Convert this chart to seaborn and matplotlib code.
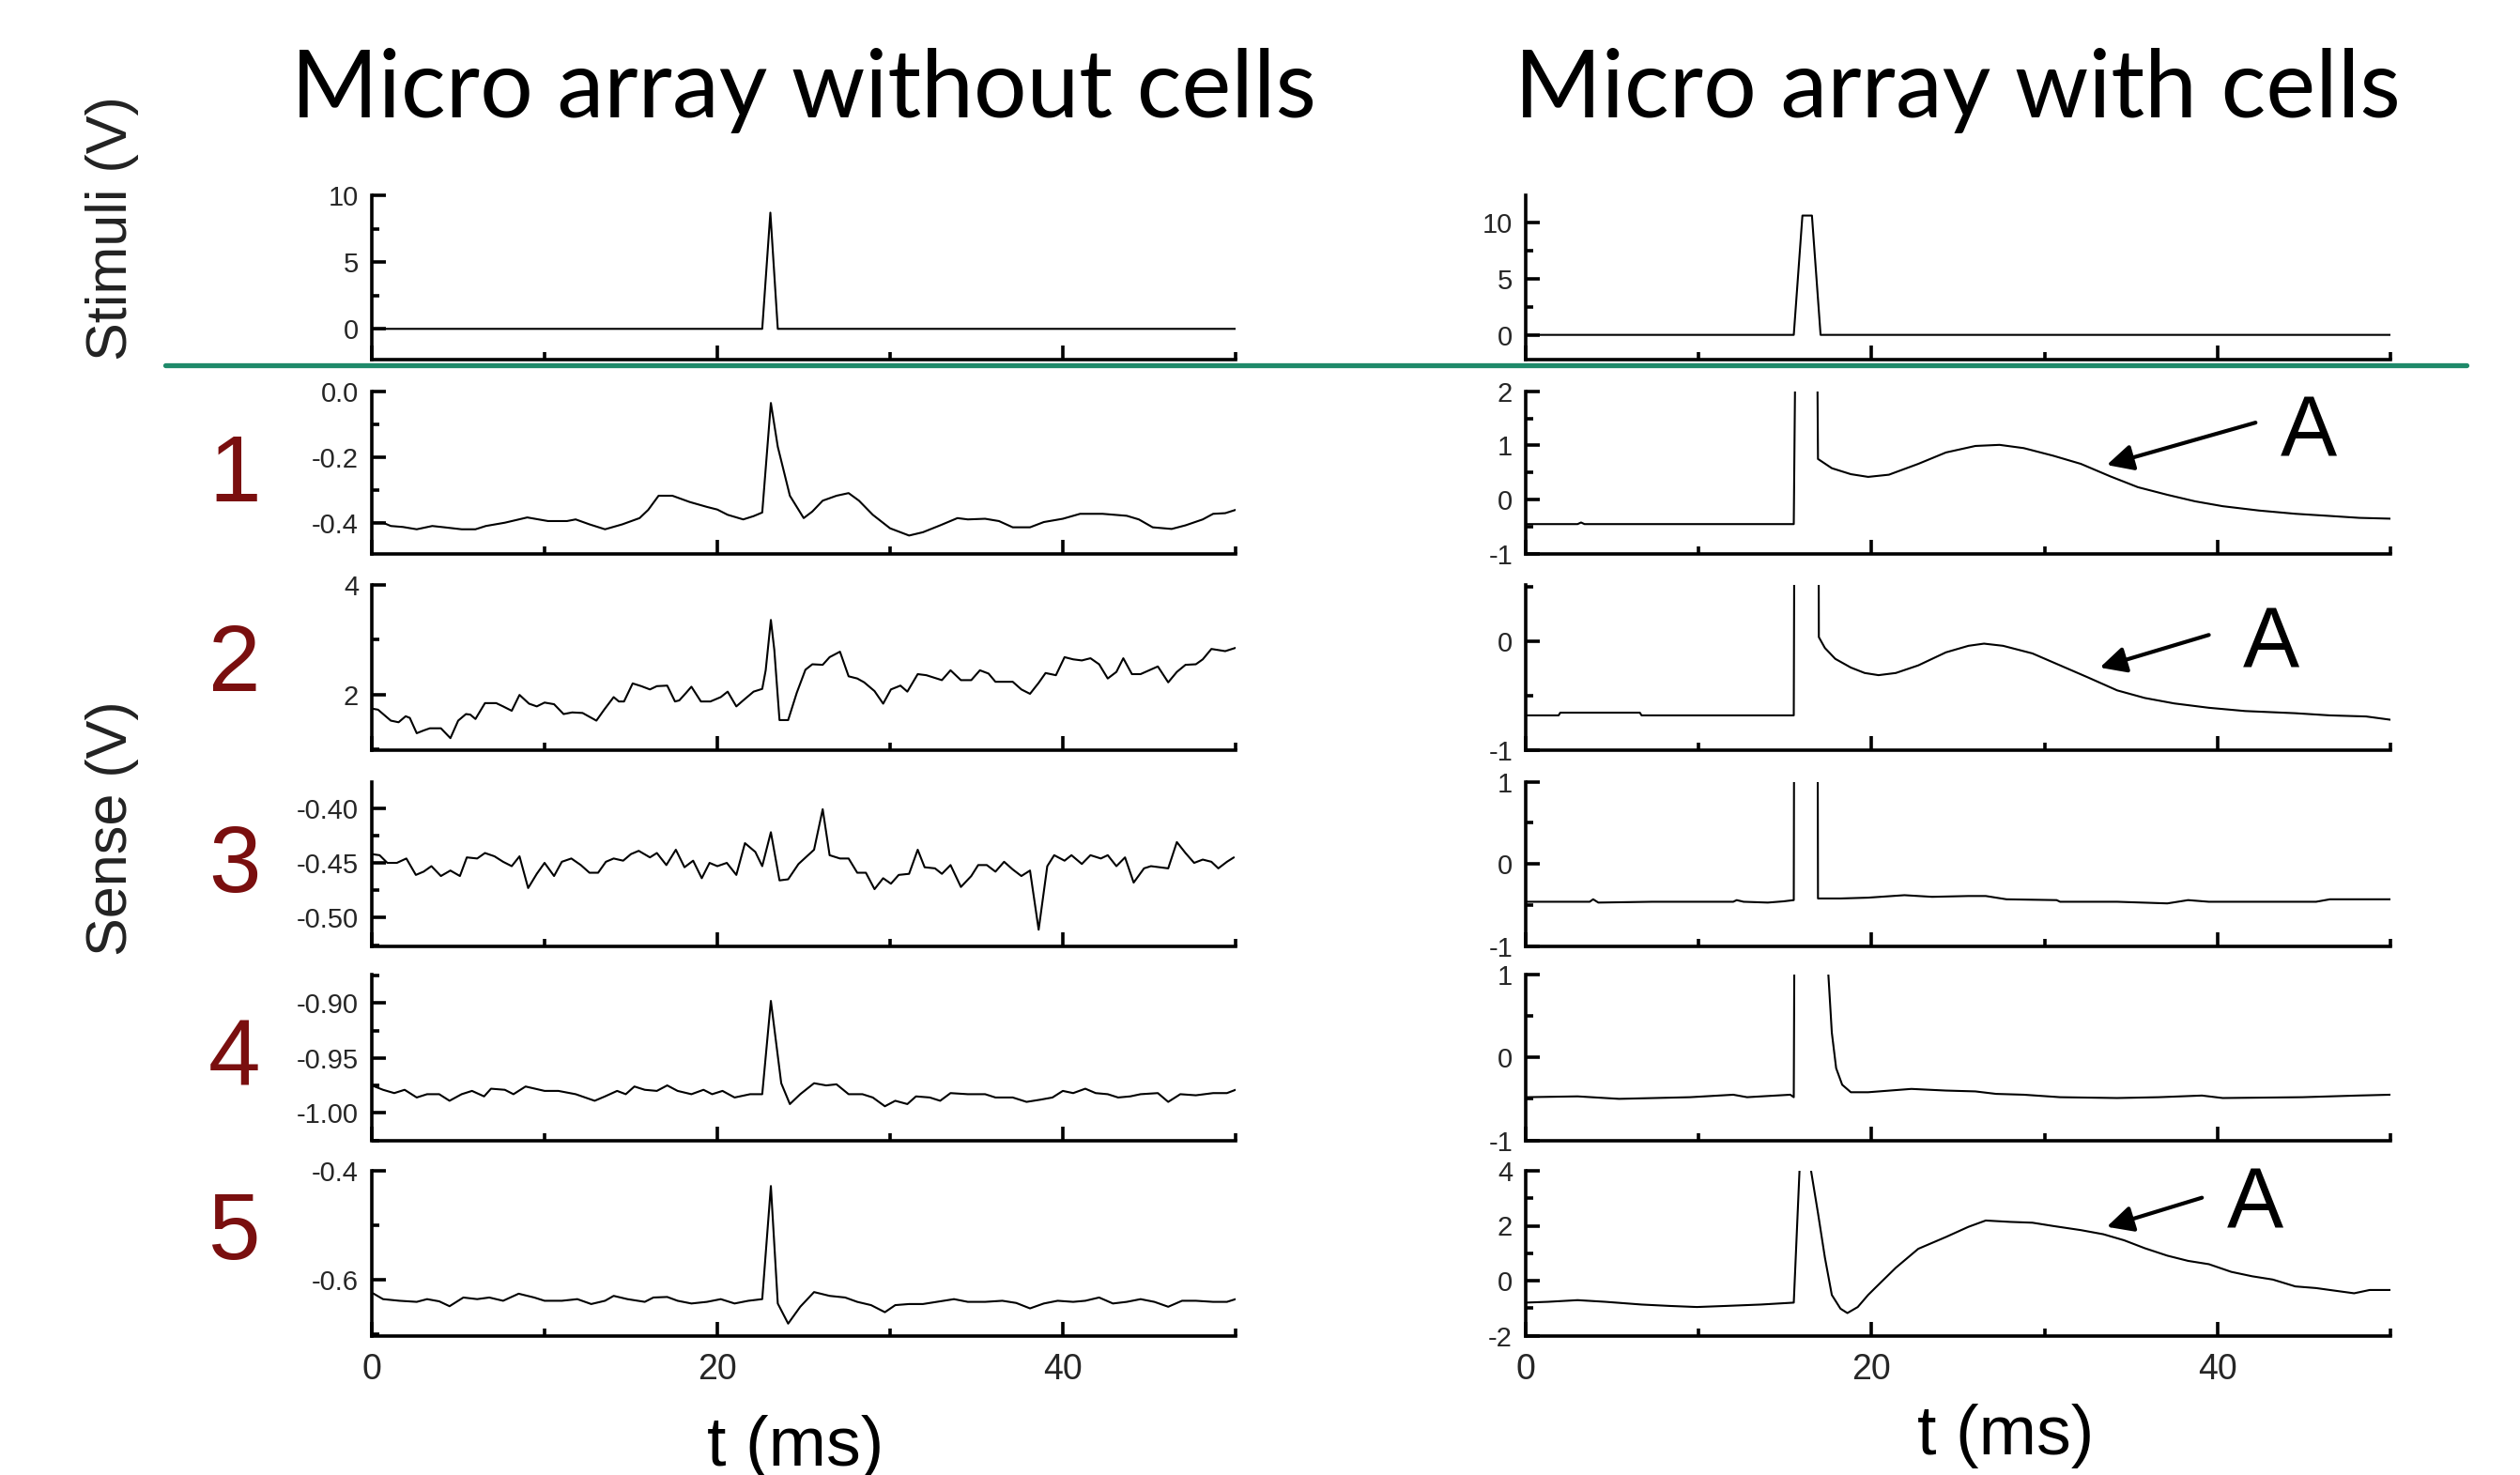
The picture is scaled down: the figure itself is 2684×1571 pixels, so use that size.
import matplotlib
matplotlib.use("Agg")
import matplotlib.pyplot as plt
from matplotlib import font_manager as fm
from matplotlib.lines import Line2D
from matplotlib.ticker import FixedLocator, FixedFormatter, MultipleLocator
import seaborn as sns

# ---------------- data (t in ms, value in V) ----------------
left_stim = [(0, 0), (22.6, 0), (23.07, 8.7), (23.5, 0), (50, 0)]
left_s1 = [(0, -0.400), (0.65, -0.400), (1.1, -0.410), (1.8, -0.413), (2.6, -0.420), (3.5, -0.410),
           (4.2, -0.414), (5.2, -0.420), (6.0, -0.420), (6.6, -0.410), (7.7, -0.400), (9.0, -0.384),
           (10.2, -0.395), (11.3, -0.395), (11.8, -0.390), (12.6, -0.405), (13.5, -0.420), (14.5, -0.405),
           (15.5, -0.386), (16.0, -0.361), (16.6, -0.318), (17.4, -0.318), (18.4, -0.337), (19.4, -0.352),
           (20.0, -0.360), (20.6, -0.376), (21.5, -0.390), (22.1, -0.380), (22.6, -0.369), (23.1, -0.036),
           (23.5, -0.169), (24.2, -0.318), (25.0, -0.386), (25.5, -0.366), (26.1, -0.333), (26.9, -0.318),
           (27.6, -0.310), (28.2, -0.333), (29.0, -0.376), (30.0, -0.417), (31.1, -0.439), (31.9, -0.429),
           (32.9, -0.408), (33.9, -0.386), (34.5, -0.390), (35.5, -0.388), (36.3, -0.395), (37.1, -0.414),
           (38.1, -0.414), (38.9, -0.398), (40.0, -0.388), (41.0, -0.373), (42.3, -0.373), (43.7, -0.379),
           (44.4, -0.390), (45.2, -0.414), (46.3, -0.419), (47.1, -0.408), (48.1, -0.390), (48.7, -0.373),
           (49.4, -0.371), (50.0, -0.361)]
left_s2 = [(0, 1.74), (0.36, 1.72), (1.1, 1.52), (1.55, 1.49), (1.96, 1.60), (2.2, 1.57), (2.6, 1.29),
           (3.0, 1.34), (3.36, 1.38), (4.0, 1.38), (4.55, 1.20), (5.0, 1.52), (5.45, 1.64), (5.7, 1.63),
           (6.0, 1.55), (6.55, 1.84), (7.2, 1.84), (7.6, 1.78), (8.1, 1.70), (8.55, 1.99), (9.1, 1.83),
           (9.55, 1.78), (10.0, 1.85), (10.55, 1.82), (11.1, 1.64), (11.6, 1.67), (12.2, 1.66), (13.0, 1.52),
           (13.45, 1.72), (14.0, 1.95), (14.3, 1.87), (14.6, 1.87), (15.1, 2.20), (15.6, 2.15), (16.1, 2.09),
           (16.5, 2.15), (17.1, 2.16), (17.55, 1.87), (17.8, 1.89), (18.2, 2.03), (18.5, 2.14), (19.05, 1.87),
           (19.6, 1.87), (20.2, 1.95), (20.6, 2.05), (21.1, 1.78), (21.5, 1.89), (22.1, 2.05), (22.6, 2.10),
           (22.8, 2.44), (23.1, 3.36), (23.3, 2.81), (23.6, 1.53), (24.1, 1.53), (24.6, 2.03), (25.1, 2.45),
           (25.5, 2.55), (26.1, 2.54), (26.5, 2.68), (27.1, 2.78), (27.6, 2.33), (28.1, 2.29), (28.5, 2.22),
           (29.1, 2.06), (29.6, 1.83), (30.05, 2.09), (30.6, 2.16), (31.0, 2.05), (31.6, 2.37), (32.1, 2.35),
           (33.0, 2.26), (33.5, 2.44), (34.1, 2.26), (34.7, 2.26), (35.2, 2.44), (35.7, 2.38), (36.1, 2.23),
           (37.1, 2.23), (37.6, 2.09), (38.1, 2.01), (38.6, 2.21), (39.0, 2.39), (39.6, 2.35), (40.1, 2.68),
           (40.6, 2.64), (41.1, 2.62), (41.6, 2.66), (42.1, 2.55), (42.6, 2.29), (43.1, 2.41), (43.5, 2.66),
           (44.0, 2.37), (44.5, 2.37), (45.0, 2.44), (45.5, 2.51), (46.1, 2.22), (46.6, 2.41), (47.1, 2.54),
           (47.7, 2.55), (48.1, 2.64), (48.6, 2.83), (49.4, 2.79), (50.0, 2.85)]
left_s3 = [(0, -0.442), (0.45, -0.443), (0.9, -0.450), (1.45, -0.450), (2.0, -0.446), (2.55, -0.461),
           (3.0, -0.458), (3.45, -0.453), (4.0, -0.462), (4.55, -0.457), (5.1, -0.462), (5.5, -0.445),
           (6.1, -0.446), (6.55, -0.441), (7.1, -0.444), (7.6, -0.449), (8.1, -0.453), (8.55, -0.444),
           (9.05, -0.473), (9.55, -0.460), (10.0, -0.450), (10.55, -0.462), (11.0, -0.449), (11.55, -0.446),
           (12.1, -0.452), (12.6, -0.459), (13.1, -0.459), (13.55, -0.449), (14.0, -0.446), (14.55, -0.448),
           (15.0, -0.442), (15.45, -0.439), (16.1, -0.445), (16.5, -0.441), (17.05, -0.452), (17.6, -0.438),
           (18.1, -0.454), (18.6, -0.448), (19.1, -0.464), (19.55, -0.450), (20.0, -0.453), (20.55, -0.450),
           (21.1, -0.461), (21.6, -0.432), (22.2, -0.440), (22.6, -0.453), (23.1, -0.422), (23.6, -0.466),
           (24.1, -0.465), (24.7, -0.451), (25.6, -0.438), (26.1, -0.401), (26.5, -0.443), (27.1, -0.446),
           (27.6, -0.446), (28.1, -0.459), (28.6, -0.459), (29.1, -0.474), (29.6, -0.464), (30.05, -0.469),
           (30.5, -0.461), (31.1, -0.460), (31.6, -0.438), (32.0, -0.454), (32.6, -0.455), (33.0, -0.460),
           (33.5, -0.452), (34.1, -0.472), (34.7, -0.462), (35.1, -0.452), (35.6, -0.452), (36.1, -0.458),
           (36.6, -0.449), (37.1, -0.456), (37.6, -0.462), (38.1, -0.457), (38.6, -0.511), (39.1, -0.453),
           (39.5, -0.443), (40.1, -0.448), (40.5, -0.443), (41.1, -0.451), (41.6, -0.443), (42.2, -0.446),
           (42.6, -0.443), (43.1, -0.453), (43.6, -0.445), (44.1, -0.468), (44.7, -0.455), (45.1, -0.453),
           (45.6, -0.454), (46.1, -0.455), (46.6, -0.431), (47.1, -0.441), (47.6, -0.450), (48.1, -0.447),
           (48.6, -0.449), (49.0, -0.455), (49.5, -0.449), (49.9, -0.445)]
left_s4 = [(0, -0.975), (0.65, -0.979), (1.3, -0.982), (1.9, -0.979), (2.6, -0.986), (3.2, -0.983),
           (3.9, -0.983), (4.5, -0.989), (5.2, -0.983), (5.8, -0.980), (6.5, -0.985), (6.9, -0.978),
           (7.7, -0.979), (8.2, -0.983), (8.9, -0.976), (10.0, -0.980), (10.8, -0.980), (11.8, -0.983),
           (12.9, -0.989), (13.5, -0.985), (14.2, -0.980), (14.7, -0.983), (15.2, -0.976), (15.8, -0.979),
           (16.5, -0.980), (17.1, -0.975), (17.7, -0.980), (18.5, -0.983), (19.2, -0.979), (19.7, -0.983),
           (20.3, -0.980), (21.0, -0.986), (21.9, -0.983), (22.6, -0.983), (23.1, -0.898), (23.7, -0.973),
           (24.2, -0.992), (24.8, -0.983), (25.6, -0.973), (26.3, -0.975), (26.9, -0.974), (27.6, -0.983),
           (28.4, -0.983), (29.0, -0.986), (29.7, -0.994), (30.3, -0.989), (31.0, -0.992), (31.5, -0.985),
           (32.3, -0.986), (32.9, -0.989), (33.5, -0.982), (34.5, -0.983), (35.5, -0.983), (36.1, -0.986),
           (37.1, -0.986), (37.9, -0.990), (38.7, -0.988), (39.4, -0.986), (40.0, -0.980), (40.6, -0.982),
           (41.3, -0.978), (41.9, -0.982), (42.6, -0.983), (43.2, -0.986), (43.9, -0.985), (44.5, -0.983),
           (45.5, -0.982), (46.1, -0.990), (46.8, -0.983), (47.7, -0.984), (48.7, -0.982), (49.5, -0.982),
           (50.0, -0.979)]
left_s5 = [(0, -0.624), (0.65, -0.636), (1.6, -0.639), (2.6, -0.641), (3.2, -0.636), (3.9, -0.640),
           (4.5, -0.649), (5.3, -0.633), (6.1, -0.636), (6.8, -0.633), (7.6, -0.639), (8.5, -0.626),
           (9.4, -0.633), (10.0, -0.639), (11.0, -0.639), (11.9, -0.636), (12.7, -0.645), (13.5, -0.639),
           (14.0, -0.630), (14.8, -0.636), (15.8, -0.641), (16.3, -0.633), (17.1, -0.632), (17.7, -0.639),
           (18.5, -0.644), (19.4, -0.641), (20.2, -0.636), (21.0, -0.644), (21.8, -0.639), (22.6, -0.636),
           (23.1, -0.428), (23.5, -0.644), (24.1, -0.681), (24.8, -0.650), (25.6, -0.623), (26.5, -0.630),
           (27.4, -0.633), (28.1, -0.641), (28.9, -0.647), (29.7, -0.660), (30.3, -0.647), (31.1, -0.645),
           (31.9, -0.645), (32.7, -0.641), (33.7, -0.636), (34.5, -0.641), (35.5, -0.641), (36.5, -0.639),
           (37.3, -0.643), (38.1, -0.653), (38.9, -0.644), (39.7, -0.639), (40.6, -0.641), (41.3, -0.639),
           (42.1, -0.633), (42.9, -0.644), (43.7, -0.641), (44.5, -0.636), (45.3, -0.641), (46.1, -0.650),
           (46.9, -0.639), (47.7, -0.639), (48.7, -0.641), (49.5, -0.641), (50.0, -0.636)]

right_stim = [(0, 0), (15.5, 0), (16.0, 10.6), (16.55, 10.6), (17.05, 0), (50, 0)]
right_s1 = [(0, -0.45), (3.0, -0.45), (3.2, -0.42), (3.4, -0.45), (15.5, -0.45), (15.8, 10.0), (16.7, 10.0),
            (16.9, 0.75), (17.7, 0.58), (18.8, 0.47), (19.8, 0.42), (21.0, 0.46), (22.7, 0.66), (24.3, 0.87),
            (26.0, 0.99), (27.4, 1.01), (28.8, 0.95), (30.5, 0.81), (32.1, 0.66), (33.8, 0.43), (35.4, 0.23),
            (37.1, 0.09), (38.7, -0.03), (40.3, -0.12), (42.4, -0.20), (44.5, -0.26), (46.5, -0.30),
            (48.2, -0.335), (50.0, -0.35)]
right_s2 = [(0, -0.68), (1.9, -0.68), (2.0, -0.655), (6.6, -0.655), (6.7, -0.68), (15.5, -0.68), (15.7, 10.0),
            (16.8, 10.0), (16.95, 0.04), (17.3, -0.06), (17.9, -0.16), (18.8, -0.24), (19.6, -0.29),
            (20.4, -0.31), (21.4, -0.29), (22.7, -0.22), (24.3, -0.10), (25.6, -0.04), (26.5, -0.02),
            (27.6, -0.04), (29.3, -0.11), (30.9, -0.22), (32.5, -0.33), (34.2, -0.45), (35.8, -0.52),
            (37.5, -0.57), (39.5, -0.61), (41.6, -0.64), (44.5, -0.66), (46.5, -0.68), (48.6, -0.69),
            (50.0, -0.72)]
right_s3 = [(0, -0.46), (3.7, -0.46), (3.9, -0.43), (4.2, -0.47), (7.3, -0.46), (12.0, -0.46), (12.2, -0.44),
            (12.6, -0.46), (14.0, -0.47), (14.9, -0.455), (15.5, -0.44), (15.6, 10.0), (16.8, 10.0),
            (16.9, -0.42), (18.2, -0.42), (19.8, -0.41), (21.9, -0.38), (23.5, -0.40), (25.6, -0.39),
            (26.6, -0.39), (27.8, -0.43), (30.7, -0.44), (30.9, -0.46), (34.2, -0.46), (37.1, -0.48),
            (38.3, -0.44), (39.5, -0.46), (45.7, -0.46), (46.5, -0.43), (50.0, -0.43)]
right_s4 = [(0, -0.48), (3.0, -0.47), (5.4, -0.50), (9.5, -0.48), (12.0, -0.45), (12.8, -0.48), (15.3, -0.45),
            (15.5, -0.48), (15.7, 10.0), (17.3, 3.0), (17.5, 1.0), (17.7, 0.3), (17.95, -0.13), (18.3, -0.33),
            (18.8, -0.42), (19.8, -0.42), (22.3, -0.38), (24.3, -0.40), (26.0, -0.41), (27.2, -0.44),
            (28.8, -0.45), (30.9, -0.48), (34.2, -0.49), (36.6, -0.48), (39.1, -0.46), (40.3, -0.49),
            (44.9, -0.48), (48.1, -0.46), (50.0, -0.45)]
right_s5 = [(0, -0.80), (1.3, -0.77), (3.0, -0.71), (4.6, -0.77), (6.7, -0.87), (8.3, -0.92), (9.9, -0.96),
            (11.6, -0.92), (13.6, -0.87), (15.5, -0.80), (15.9, 5.0), (16.3, 5.0), (16.5, 4.0), (16.9, 2.46),
            (17.3, 0.84), (17.7, -0.52), (18.2, -1.02), (18.6, -1.18), (19.2, -0.96), (19.8, -0.52),
            (20.2, -0.27), (21.4, 0.47), (22.7, 1.16), (24.3, 1.59), (25.6, 1.96), (26.6, 2.19), (28.0, 2.14),
            (29.3, 2.11), (30.5, 1.99), (32.1, 1.84), (33.4, 1.69), (34.6, 1.47), (35.8, 1.18), (37.1, 0.91),
            (38.3, 0.72), (39.5, 0.60), (40.8, 0.32), (42.0, 0.16), (43.2, 0.04), (44.5, -0.21), (45.7, -0.27),
            (46.5, -0.34), (47.9, -0.46), (48.8, -0.34), (50.0, -0.34)]

left_traces = [left_stim, left_s1, left_s2, left_s3, left_s4, left_s5]
right_traces = [right_stim, right_s1, right_s2, right_s3, right_s4, right_s5]

left_yticks = [[0, 5, 10], [-0.4, -0.2, 0.0], [2, 4], [-0.50, -0.45, -0.40], [-1.00, -0.95, -0.90], [-0.6, -0.4]]
left_ylabels = [["0", "5", "10"], ["-0.4", "-0.2", "0.0"], ["2", "4"], ["-0.50", "-0.45", "-0.40"],
                ["-1.00", "-0.95", "-0.90"], ["-0.6", "-0.4"]]
right_yticks = [[0, 5, 10], [-1, 0, 1, 2], [-1, 0], [-1, 0, 1], [-1, 0, 1], [-2, 0, 2, 4]]
right_ylabels = [["0", "5", "10"], ["-1", "0", "1", "2"], ["-1", "0"], ["-1", "0", "1"], ["-1", "0", "1"],
                 ["-2", "0", "2", "4"]]
x_ticks = [0, 20, 40]
x_ticklabels = ["0", "20", "40"]

titles = ["Micro array without cells", "Micro array with cells"]
row_numbers = ["1", "2", "3", "4", "5"]
stim_label = "Stimuli (V)"
sense_label = "Sense (V)"
time_label = "t (ms)"
# annotation "A": (row index, text x, text y, arrow tail, arrow head) in data units
a_marks = [(1, 45.3, 1.21, (42.2, 1.42), (33.6, 0.64)),
           (2, 43.1, -0.03, (39.5, 0.06), (33.2, -0.24)),
           (5, 42.2, 2.74, (39.1, 3.02), (33.6, 1.96))]

# ---------------- style ----------------
sns.set_theme(style="white")
names = {f.name for f in fm.fontManager.ttflist}
narrow = "Liberation Sans Narrow" if "Liberation Sans Narrow" in names else "Liberation Sans"
plt.rcParams["font.family"] = ["Liberation Sans", "DejaVu Sans"]
plt.rcParams["axes.unicode_minus"] = False

W, H = 2684, 1571
fig = plt.figure(figsize=(W / 100, H / 100), dpi=100)
fig.patch.set_facecolor("white")

col_x = [(396, 1316), (1625, 2546)]
rows = [(208, 383.4), (416.6, 590), (623, 799), (832.7, 1007.7), (1038, 1214.5), (1247, 1422.5)]
left_ylim = [(-2.33, 10), (-0.495, 0.0), (0.98, 4.0), (-0.526, -0.376), (-1.025, -0.874), (-0.703, -0.40)]
right_ylim = [(-2.23, 12.4), (-1, 2), (-1, 0.52), (-1, 1), (-1, 1), (-2, 4)]
left_minor = [2.5, 0.1, 1, 0.025, 0.025, 0.1]
right_minor = [2.5, 0.5, 0.5, 0.5, 0.5, 1]

spine_w = 2.6


def make_axes(x0, x1, top, bot):
    return fig.add_axes([x0 / W, 1 - bot / H, (x1 - x0) / W, (bot - top) / H])


right_axes = []
for c, (traces, yts, yls, ylims, minors) in enumerate([
        (left_traces, left_yticks, left_ylabels, left_ylim, left_minor),
        (right_traces, right_yticks, right_ylabels, right_ylim, right_minor)]):
    for r in range(6):
        ax = make_axes(col_x[c][0], col_x[c][1], rows[r][0], rows[r][1])
        tr = traces[r]
        t = [p[0] for p in tr]
        v = [p[1] for p in tr]
        sns.lineplot(x=t, y=v, ax=ax, color="black", linewidth=1.5, estimator=None, sort=False)
        ax.set_xlim(0, 50)
        ax.set_ylim(*ylims[r])
        ax.set_xlabel("")
        ax.set_ylabel("")
        ax.set_facecolor("none")
        for s in ("top", "right"):
            ax.spines[s].set_visible(False)
        for s in ("left", "bottom"):
            ax.spines[s].set_color("black")
            ax.spines[s].set_linewidth(spine_w)
        ax.xaxis.set_major_locator(FixedLocator(x_ticks))
        ax.xaxis.set_minor_locator(MultipleLocator(10))
        ax.yaxis.set_major_locator(FixedLocator(yts[r]))
        ax.yaxis.set_major_formatter(FixedFormatter(yls[r]))
        ax.yaxis.set_minor_locator(MultipleLocator(minors[r]))
        ax.tick_params(axis="x", which="major", direction="in", length=11, width=spine_w,
                       color="black", bottom=True, top=False)
        ax.tick_params(axis="x", which="minor", direction="in", length=5.5, width=spine_w,
                       color="black", bottom=True, top=False)
        ax.tick_params(axis="y", which="major", direction="in", length=11, width=spine_w,
                       color="black", left=True, right=False, pad=10, labelsize=21)
        ax.tick_params(axis="y", which="minor", direction="in", length=5.5, width=spine_w,
                       color="black", left=True, right=False)
        for lab in ax.get_yticklabels():
            lab.set_fontfamily([narrow, "DejaVu Sans"])
        if r == 5:
            ax.xaxis.set_major_formatter(FixedFormatter(x_ticklabels))
            ax.tick_params(axis="x", which="major", labelbottom=True, labelsize=27, pad=13)
            for lab in ax.get_xticklabels():
                lab.set_fontfamily([narrow, "DejaVu Sans"])
        else:
            ax.tick_params(axis="x", which="both", labelbottom=False)
        if c == 1:
            right_axes.append(ax)

# "A" annotations on the right column
for (r, tx, ty, tail, head) in a_marks:
    ax = right_axes[r]
    ax.annotate("", xy=head, xytext=tail,
                arrowprops=dict(arrowstyle="-|>", color="black", lw=3.0, mutation_scale=42,
                                shrinkA=0, shrinkB=0), annotation_clip=False)
    ax.text(tx, ty, "A", fontsize=65, ha="center", va="center", color="black", clip_on=False)

# titles
fig.text(856 / W, 1 - 97 / H, titles[0], fontsize=72, family=["Lato", "DejaVu Sans"],
         ha="center", va="center", color="black")
fig.text(2085 / W, 1 - 97 / H, titles[1], fontsize=72, family=["Lato", "DejaVu Sans"],
         ha="center", va="center", color="black")

# axis group labels
fig.text(120 / W, 1 - 243 / H, stim_label, rotation=90, fontsize=44, ha="center", va="center", color="#222222")
fig.text(120 / W, 1 - 882 / H, sense_label, rotation=90, fontsize=44, ha="center", va="center", color="#222222")

# row numbers
row_y = [508, 710, 924, 1130, 1315]
for lab, yy in zip(row_numbers, row_y):
    fig.text(250 / W, 1 - yy / H, lab, fontsize=72, ha="center", va="center", color="#7a0f0f")

# time labels
fig.text(847 / W, 1 - 1541 / H, time_label, fontsize=53, ha="center", va="center", color="black")
fig.text(2136 / W, 1 - 1530 / H, time_label, fontsize=53, ha="center", va="center", color="black")

# green separator line
fig.add_artist(Line2D([176 / W, 2627 / W], [1 - 389 / H, 1 - 389 / H], color="#1f8a6a", lw=3.8,
                      transform=fig.transFigure))

fig.savefig("out.png", dpi=100, facecolor="white")
